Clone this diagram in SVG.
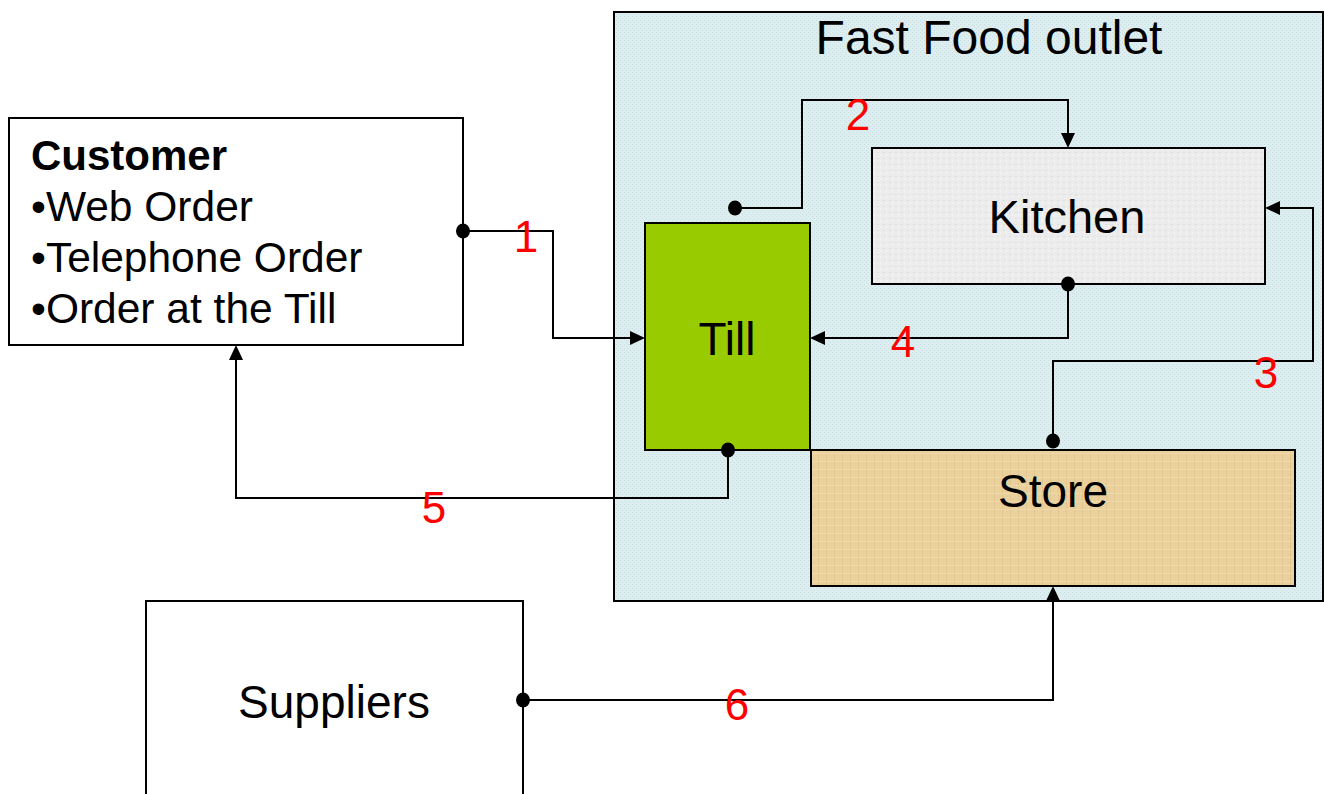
<svg xmlns="http://www.w3.org/2000/svg" xmlns:xlink="http://www.w3.org/1999/xlink" width="1324" height="794" viewBox="0 0 1324 794">
<defs>
<pattern id="dots" width="4" height="4" patternUnits="userSpaceOnUse">
<rect width="4" height="4" fill="#DDEEF1"/>
<rect x="0" y="0" width="1" height="1" fill="#C9DCE0"/>
<rect x="2" y="2" width="1" height="1" fill="#C9DCE0"/>
</pattern>
<pattern id="paper" width="6" height="6" patternUnits="userSpaceOnUse">
<rect width="6" height="6" fill="#ECECEC"/>
<rect x="1" y="2" width="2" height="1" fill="#DEDEDE"/>
<rect x="4" y="4" width="1" height="2" fill="#F6F6F6"/>
</pattern>
<pattern id="tan" width="8" height="8" patternUnits="userSpaceOnUse">
<rect width="8" height="8" fill="#E9D09C"/>
<rect x="2" y="0" width="1" height="8" fill="#E1C68E"/>
<rect x="0" y="5" width="8" height="1" fill="#EED9AA"/>
</pattern>
<path id="ah" d="M0,0 L-15,-7 L-15,7 Z" fill="#000"/>
<ellipse id="dt" cx="0" cy="0" rx="7" ry="7.5" fill="#000"/>
</defs>
<style>
.box{stroke:#000;stroke-width:2}
.t{font-family:"Liberation Sans",Arial,sans-serif;font-size:44px;fill:#000}
.lbl{font-family:"Liberation Sans",Arial,sans-serif;font-size:44px;fill:#FF0000}
.c{fill:none;stroke:#000;stroke-width:2}
</style>
<rect width="1324" height="794" fill="#fff"/>
<g id="outlet">
<rect class="box" x="614" y="12" width="709" height="589" fill="url(#dots)"/>
<text class="t" x="989" y="54" text-anchor="middle" style="font-size:48px">Fast Food outlet</text>
</g>
<g id="customer">
<rect class="box" x="9" y="118" width="454" height="227" fill="#fff"/>
<text class="t" x="31" y="170" font-weight="bold" style="font-size:42px">Customer</text>
<text class="t" x="31" y="221" style="font-size:42.5px">•Web Order</text>
<text class="t" x="31" y="272" style="font-size:42.5px">•Telephone Order</text>
<text class="t" x="31" y="323" style="font-size:42.5px">•Order at the Till</text>
</g>
<g id="till">
<rect class="box" x="645" y="223" width="165" height="227" fill="#99CC00"/>
<text class="t" x="727" y="355" text-anchor="middle" style="font-size:46px">Till</text>
</g>
<g id="kitchen">
<rect class="box" x="872" y="148" width="393" height="136" fill="url(#paper)"/>
<text class="t" x="1067" y="233" text-anchor="middle" style="font-size:47px">Kitchen</text>
</g>
<g id="store">
<rect class="box" x="811" y="450" width="484" height="136" fill="url(#tan)"/>
<text class="t" x="1053" y="507" text-anchor="middle" style="font-size:46px">Store</text>
</g>
<g id="suppliers">
<rect class="box" x="146" y="601" width="377" height="200" fill="#fff"/>
<text class="t" x="334" y="718" text-anchor="middle" style="font-size:46px">Suppliers</text>
</g>
<g id="connectors">
<path class="c" d="M463,231 H553 V338 H635"/>
<path class="c" d="M735,208 H802 V100 H1068 V138"/>
<path class="c" d="M1053,441 V361 H1313 V208 H1275"/>
<path class="c" d="M1068,284 V338 H820"/>
<path class="c" d="M728,450 V498 H236 V355"/>
<path class="c" d="M523,700 H1053 V596"/>
<use xlink:href="#ah" href="#ah" transform="translate(645,338)"/>
<use xlink:href="#ah" href="#ah" transform="translate(1068,148) rotate(90)"/>
<use xlink:href="#ah" href="#ah" transform="translate(1265,208) rotate(180)"/>
<use xlink:href="#ah" href="#ah" transform="translate(810,338) rotate(180)"/>
<use xlink:href="#ah" href="#ah" transform="translate(236,345) rotate(-90)"/>
<use xlink:href="#ah" href="#ah" transform="translate(1053,586) rotate(-90)"/>
<use xlink:href="#dt" href="#dt" transform="translate(463,231)"/>
<use xlink:href="#dt" href="#dt" transform="translate(735,208)"/>
<use xlink:href="#dt" href="#dt" transform="translate(1053,441)"/>
<use xlink:href="#dt" href="#dt" transform="translate(1068,284)"/>
<use xlink:href="#dt" href="#dt" transform="translate(728,450)"/>
<use xlink:href="#dt" href="#dt" transform="translate(523,700)"/>
<text class="lbl" x="526" y="252" text-anchor="middle">1</text>
<text class="lbl" x="858" y="130" text-anchor="middle">2</text>
<text class="lbl" x="1266" y="388" text-anchor="middle">3</text>
<text class="lbl" x="903" y="357" text-anchor="middle">4</text>
<text class="lbl" x="434" y="523" text-anchor="middle">5</text>
<text class="lbl" x="737" y="720" text-anchor="middle">6</text>
</g>
</svg>
